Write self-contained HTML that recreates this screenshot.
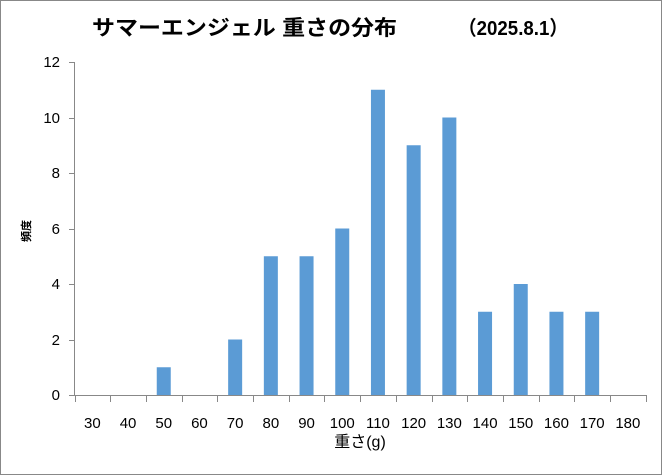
<!DOCTYPE html>
<html><head><meta charset="utf-8"><style>
html,body{margin:0;padding:0;background:#fff}
svg{display:block}
text{font-family:"Liberation Sans","Noto Sans CJK JP",sans-serif}
</style></head><body>
<svg width="662" height="475" viewBox="0 0 662 475" xmlns="http://www.w3.org/2000/svg">
<rect x="0.5" y="0.5" width="661" height="474" fill="#fff" stroke="#888"/>
<text x="92" y="35" font-size="21" font-weight="bold" fill="#000" textLength="305" lengthAdjust="spacingAndGlyphs">サマーエンジェル  重さの分布</text>
<text x="458" y="35" font-size="20" font-weight="bold" fill="#000" textLength="110" lengthAdjust="spacingAndGlyphs">（2025.8.1）</text>
<g stroke="#888" stroke-width="1">
<line x1="74.5" y1="62" x2="74.5" y2="395"/>
<line x1="74" y1="395.5" x2="646" y2="395.5"/>
<line x1="69" y1="62.5" x2="74" y2="62.5"/>
<line x1="69" y1="118.5" x2="74" y2="118.5"/>
<line x1="69" y1="173.5" x2="74" y2="173.5"/>
<line x1="69" y1="229.5" x2="74" y2="229.5"/>
<line x1="69" y1="284.5" x2="74" y2="284.5"/>
<line x1="69" y1="340.5" x2="74" y2="340.5"/>
<line x1="69" y1="395.5" x2="74" y2="395.5"/>
</g>
<g stroke="#888" id="xt"></g>
<g font-size="15" fill="#000" text-anchor="end">
<text x="60" y="67">12</text><text x="60" y="123">10</text><text x="60" y="178">8</text>
<text x="60" y="234">6</text><text x="60" y="289">4</text><text x="60" y="345">2</text><text x="60" y="400">0</text>
</g>
<text transform="translate(30,231) rotate(-90)" font-size="11" font-weight="bold" text-anchor="middle">頻度</text>
<text x="360" y="447" font-size="16" text-anchor="middle">重さ(g)</text>
<g id="bars" fill="#5b9bd5"></g>
<g id="xl" font-size="15" text-anchor="middle"></g>
<script>
var vals=[0,0,1,0,2,5,5,6,11,9,10,3,4,3,3,0];
var ns="http://www.w3.org/2000/svg",w=35.7,x0=74.5,y0=395,u=27.75;
for(var i=0;i<=16;i++){var l=document.createElementNS(ns,"line");var x=Math.round(x0+i*w)+0.5;
l.setAttribute("x1",x);l.setAttribute("x2",x);l.setAttribute("y1",395);l.setAttribute("y2",402);document.getElementById("xt").appendChild(l);}
for(var i=0;i<16;i++){var c=x0+(i+0.5)*w;
if(vals[i]>0){var r=document.createElementNS(ns,"rect");r.setAttribute("x",c-7);r.setAttribute("width",14);
r.setAttribute("y",y0-vals[i]*u);r.setAttribute("height",vals[i]*u);document.getElementById("bars").appendChild(r);}
var t=document.createElementNS(ns,"text");t.setAttribute("x",c);t.setAttribute("y",428);t.textContent=30+i*10;document.getElementById("xl").appendChild(t);}
</script>
</svg>
</body></html>
